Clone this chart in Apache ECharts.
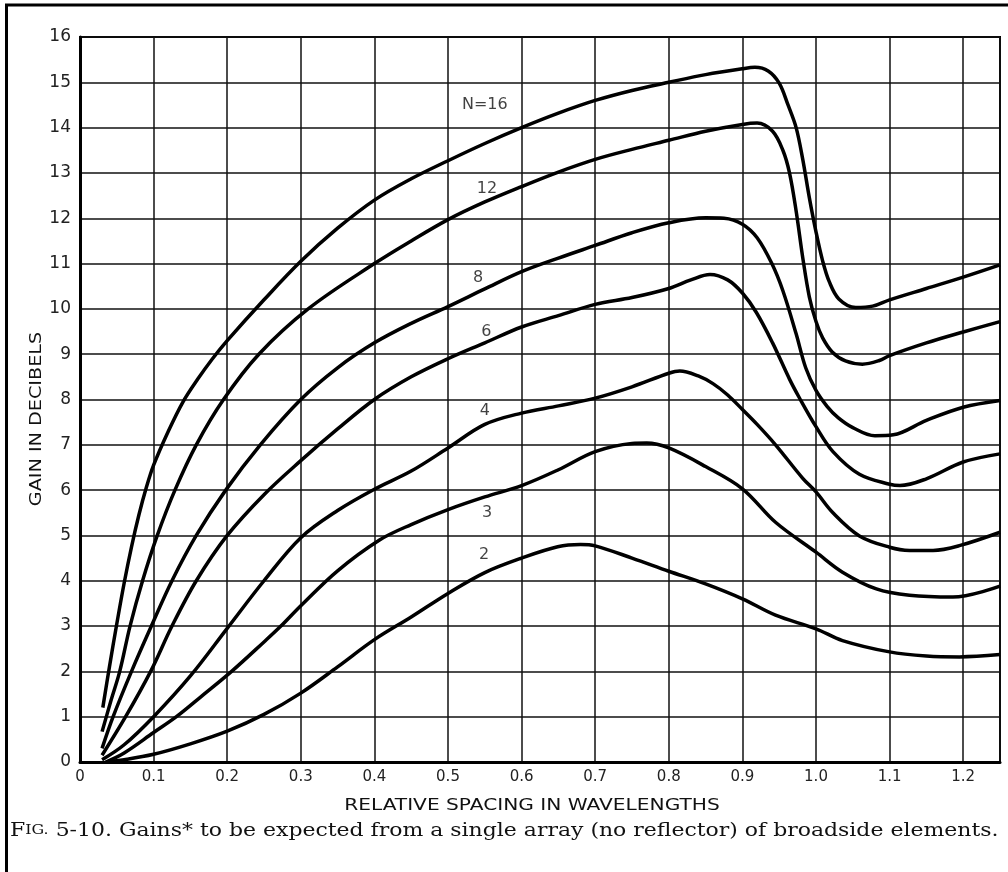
<!DOCTYPE html>
<html>
<head>
<meta charset="utf-8">
<script src="https://cdn.jsdelivr.net/npm/echarts@6/dist/echarts.min.js"></script>
<style>
html,body{margin:0;padding:0;background:#fff;}
#chart{width:1008px;height:872px;}
</style>
</head>
<body>
<div id="chart"></div>
<script>
// ---- data ----
const xTickLabels = ['0','0.1','0.2','0.3','0.4','0.5','0.6','0.7','0.8','0.9','1.0','1.1','1.2'];
const yTickLabels = ['0','1','2','3','4','5','6','7','8','9','10','11','12','13','14','15','16'];

const n16 = [[0.031,1.2],[0.04,2.1],[0.05,3.05],[0.06,3.95],[0.07,4.75],[0.08,5.45],[0.09,6.05],[0.1,6.55],[0.12,7.3],[0.14,7.95],[0.16,8.45],[0.18,8.9],[0.2,9.3],[0.25,10.2],[0.3,11.05],[0.35,11.78],[0.4,12.4],[0.45,12.87],[0.5,13.27],[0.55,13.65],[0.6,14.0],[0.65,14.32],[0.7,14.6],[0.75,14.82],[0.8,15.0],[0.85,15.17],[0.9,15.3],[0.917,15.33],[0.935,15.25],[0.95,14.98],[0.962,14.5],[0.973,14.0],[0.982,13.3],[0.991,12.45],[1.0,11.7],[1.009,11.06],[1.018,10.6],[1.031,10.22],[1.054,10.03],[1.077,10.06],[1.1,10.2],[1.15,10.45],[1.2,10.7],[1.25,10.97]];
const n12 = [[0.03,0.67],[0.042,1.35],[0.054,2],[0.068,3],[0.085,4],[0.105,5],[0.129,6],[0.158,7],[0.195,8],[0.243,9],[0.31,10],[0.4,11.0],[0.45,11.5],[0.5,11.97],[0.55,12.36],[0.6,12.7],[0.65,13.02],[0.7,13.3],[0.75,13.52],[0.8,13.72],[0.85,13.92],[0.9,14.07],[0.92,14.1],[0.941,13.92],[0.955,13.5],[0.964,13.0],[0.973,12.16],[0.982,11.13],[0.991,10.26],[1.0,9.72],[1.009,9.36],[1.022,9.05],[1.04,8.85],[1.063,8.78],[1.086,8.86],[1.1,8.97],[1.15,9.25],[1.2,9.49],[1.25,9.72]];
const n8 = [[0.03,0.3],[0.045,1.0],[0.07,2.0],[0.097,3],[0.125,4],[0.158,5],[0.198,6],[0.245,7],[0.3,8],[0.35,8.7],[0.4,9.25],[0.45,9.68],[0.5,10.05],[0.55,10.44],[0.6,10.82],[0.65,11.12],[0.7,11.4],[0.75,11.68],[0.8,11.9],[0.85,12.01],[0.875,12.0],[0.9,11.87],[0.92,11.57],[0.94,11.0],[0.955,10.4],[0.973,9.45],[0.986,8.7],[1.0,8.2],[1.015,7.85],[1.03,7.6],[1.05,7.38],[1.08,7.2],[1.105,7.22],[1.15,7.54],[1.2,7.83],[1.25,7.98]];
const n6 = [[0.03,0.15],[0.062,1],[0.096,2],[0.125,3],[0.158,4],[0.2,5],[0.25,5.9],[0.3,6.65],[0.35,7.35],[0.4,8.0],[0.45,8.5],[0.5,8.9],[0.55,9.25],[0.6,9.6],[0.65,9.85],[0.7,10.1],[0.75,10.25],[0.8,10.45],[0.83,10.64],[0.856,10.76],[0.88,10.64],[0.9,10.35],[0.919,9.92],[0.941,9.25],[0.964,8.45],[0.977,8.05],[1.0,7.4],[1.023,6.85],[1.059,6.35],[1.1,6.13],[1.114,6.1],[1.15,6.25],[1.2,6.62],[1.25,6.8]];
const n4 = [[0.03,0.05],[0.06,0.38],[0.1,1.0],[0.15,1.9],[0.2,2.95],[0.25,4.0],[0.3,4.95],[0.35,5.55],[0.4,6.02],[0.45,6.42],[0.5,6.93],[0.55,7.45],[0.6,7.7],[0.65,7.86],[0.7,8.03],[0.75,8.28],[0.8,8.58],[0.815,8.63],[0.84,8.52],[0.86,8.35],[0.88,8.1],[0.9,7.78],[0.92,7.45],[0.945,7.0],[0.982,6.26],[1.0,5.96],[1.023,5.5],[1.059,4.99],[1.1,4.74],[1.127,4.67],[1.159,4.67],[1.196,4.78],[1.25,5.07]];
const n3 = [[0.035,0],[0.06,0.2],[0.1,0.65],[0.131,1.0],[0.165,1.45],[0.206,2],[0.25,2.65],[0.273,3],[0.3,3.45],[0.35,4.22],[0.407,4.9],[0.45,5.24],[0.5,5.57],[0.55,5.85],[0.6,6.1],[0.65,6.45],[0.7,6.85],[0.75,7.03],[0.77,7.04],[0.8,6.93],[0.85,6.52],[0.9,6.03],[0.945,5.29],[1.0,4.63],[1.036,4.19],[1.082,3.82],[1.127,3.68],[1.186,3.64],[1.25,3.88]];
const n2 = [[0.035,0],[0.06,0.05],[0.1,0.17],[0.15,0.4],[0.2,0.68],[0.25,1.05],[0.3,1.52],[0.35,2.1],[0.4,2.7],[0.45,3.2],[0.5,3.72],[0.55,4.18],[0.6,4.5],[0.649,4.75],[0.68,4.8],[0.7,4.77],[0.75,4.5],[0.8,4.21],[0.85,3.93],[0.9,3.6],[0.945,3.24],[1.0,2.94],[1.036,2.68],[1.1,2.43],[1.15,2.34],[1.195,2.32],[1.25,2.37]];

const curveNames = ['N=16','12','8','6','4','3','2'];
const curveData = [n16, n12, n8, n6, n4, n3, n2];
// label anchor points in data units [x, gain]
const labelX = [0.55, 0.553, 0.541, 0.552, 0.55, 0.553, 0.549];
const labelY = [14.5, 12.66, 10.68, 9.49, 7.74, 5.49, 4.57];

const xName = 'RELATIVE SPACING IN WAVELENGTHS';
const yName = 'GAIN IN DECIBELS';
const captionText = '{big|F}{small|IG.} 5-10. Gains* to be expected from a single array (no reflector) of broadside elements.';

// ---- chart ----
const SANS = '"DejaVu Sans","Liberation Sans",sans-serif';
const SERIF = '"DejaVu Serif","Liberation Serif",serif';
const chart = echarts.init(document.getElementById('chart'), null, {renderer: 'canvas'});

const series = curveData.map((d, i) => ({
  name: curveNames[i],
  type: 'line',
  data: d,
  smooth: 0.35,
  showSymbol: false,
  symbol: 'none',
  lineStyle: {color: '#000', width: 3.5},
  z: 5,
  animation: false
}));
series.push({
  type: 'scatter',
  symbolSize: 0,
  data: curveNames.map((n, i) => ({name: n, value: [labelX[i], labelY[i]]})),
  label: {
    show: true, position: 'inside', formatter: p => p.name,
    color: '#111', fontFamily: SANS, fontSize: 16
  },
  z: 6,
  animation: false
});

chart.setOption({
  backgroundColor: '#fff',
  animation: false,
  grid: {left: 80, right: 8, top: 37, bottom: 110, show: true, borderColor: '#000', borderWidth: 2},
  xAxis: {
    type: 'value', min: 0, max: 1.25, interval: 0.1,
    axisLine: {show: true, onZero: false, lineStyle: {color: '#000', width: 3}},
    axisTick: {show: false},
    splitLine: {show: true, lineStyle: {color: '#111', width: 1.5}},
    axisLabel: {
      margin: 8, fontFamily: SANS, fontSize: 15, color: '#222',
      showMaxLabel: false,
      formatter: v => { const i = Math.round(v * 10); return (Math.abs(v * 10 - i) < 1e-6 && xTickLabels[i] !== undefined) ? xTickLabels[i] : ''; }
    }
  },
  yAxis: {
    type: 'value', min: 0, max: 16, interval: 1,
    axisLine: {show: true, onZero: false, lineStyle: {color: '#000', width: 3}},
    axisTick: {show: false},
    splitLine: {show: true, lineStyle: {color: '#111', width: 1.5}},
    axisLabel: {
      margin: 9, fontFamily: SANS, fontSize: 17, color: '#222',
      formatter: v => yTickLabels[Math.round(v)]
    }
  },
  graphic: [
    {type: 'polyline', shape: {points: [[6.5, 872], [6.5, 5], [1008, 5]]}, style: {stroke: '#000', lineWidth: 3, fill: null}, z: 10},
    {type: 'text', x: 37, y: 419, rotation: Math.PI / 2, scaleX: 1.2,
     style: {text: yName, font: '16px ' + SANS, fill: '#111', textAlign: 'center', textVerticalAlign: 'middle'}},
    {type: 'text', x: 532, y: 806, scaleX: 1.26,
     style: {text: xName, font: '16px ' + SANS, fill: '#111', textAlign: 'center', textVerticalAlign: 'middle'}},
    {type: 'text', x: 10, y: 831, scaleX: 1.22,
     style: {
       text: captionText, font: '18px ' + SERIF, fill: '#111', textAlign: 'left', textVerticalAlign: 'middle',
       rich: {
         big: {font: '18px ' + SERIF, fill: '#111'},
         small: {font: '13px ' + SERIF, fill: '#111'}
       }
     }}
  ],
  series: series
});
</script>
</body>
</html>
